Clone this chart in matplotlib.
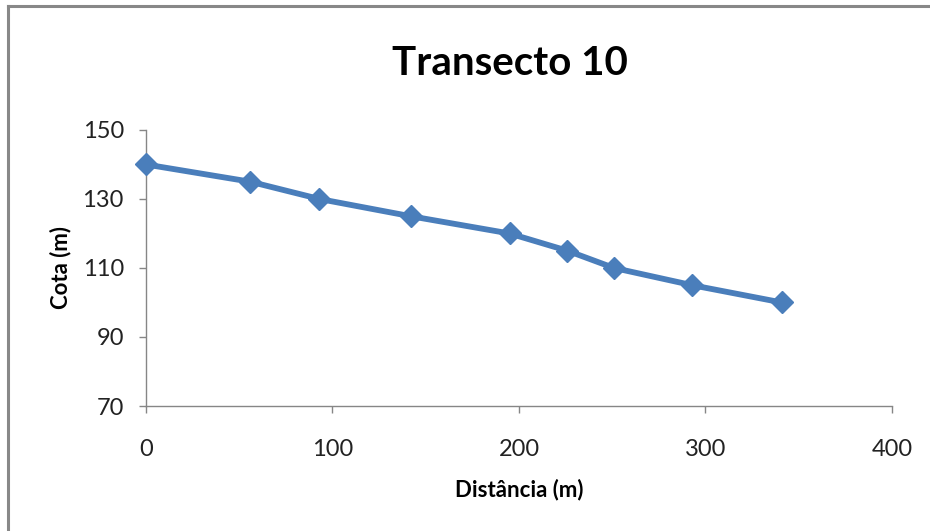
import matplotlib
matplotlib.use("Agg")
import matplotlib.pyplot as plt
from matplotlib.lines import Line2D

# transect profile: distance along the line vs elevation
distancia = [0, 56, 93, 142, 195, 226, 251, 293, 341]
cota = [140, 135, 130, 125, 120, 115, 110, 105, 100]

x_ticks = [0, 100, 200, 300, 400]
y_ticks = [70, 90, 110, 130, 150]

plt.rcParams["font.family"] = ["Lato", "DejaVu Sans"]

fig = plt.figure(figsize=(9.3, 5.31), dpi=100)
ax = fig.add_axes([0.157, 0.2354, 0.802, 0.5198])

ax.plot(distancia, cota, color="#4a7ebb", linewidth=4.2,
        marker="D", markersize=11, markerfacecolor="#4a7ebb",
        markeredgecolor="#4a7ebb", solid_joinstyle="round",
        clip_on=False, zorder=3)

ax.set_xlim(0, 400)
ax.set_ylim(70, 150)
ax.set_xticks(x_ticks)
ax.set_yticks(y_ticks)

for side in ("top", "right"):
    ax.spines[side].set_visible(False)
for side in ("left", "bottom"):
    ax.spines[side].set_color("#868686")
    ax.spines[side].set_linewidth(1.0)

ax.tick_params(axis="both", colors="#868686", length=5, width=1.0,
               labelcolor="#222222", labelsize=17)
ax.tick_params(axis="x", pad=19)
ax.tick_params(axis="y", pad=11)

ax.set_xlabel("Distância (m)", fontsize=16, fontweight="bold", labelpad=13)
ax.set_ylabel("Cota (m)", fontsize=16, fontweight="bold", labelpad=8)

fig.text(0.548, 0.88, "Transecto 10", ha="center", va="center",
         fontsize=29, fontweight="bold")

# chart-area frame (only top and left edges visible)
frame = "#888888"
fig.add_artist(Line2D([0.0086, 1.0], [0.9887, 0.9887], color=frame,
                      linewidth=2.2, transform=fig.transFigure))
fig.add_artist(Line2D([0.0086, 0.0086], [0.0, 0.9887], color=frame,
                      linewidth=2.2, transform=fig.transFigure))

fig.savefig("out.png", dpi=100)
